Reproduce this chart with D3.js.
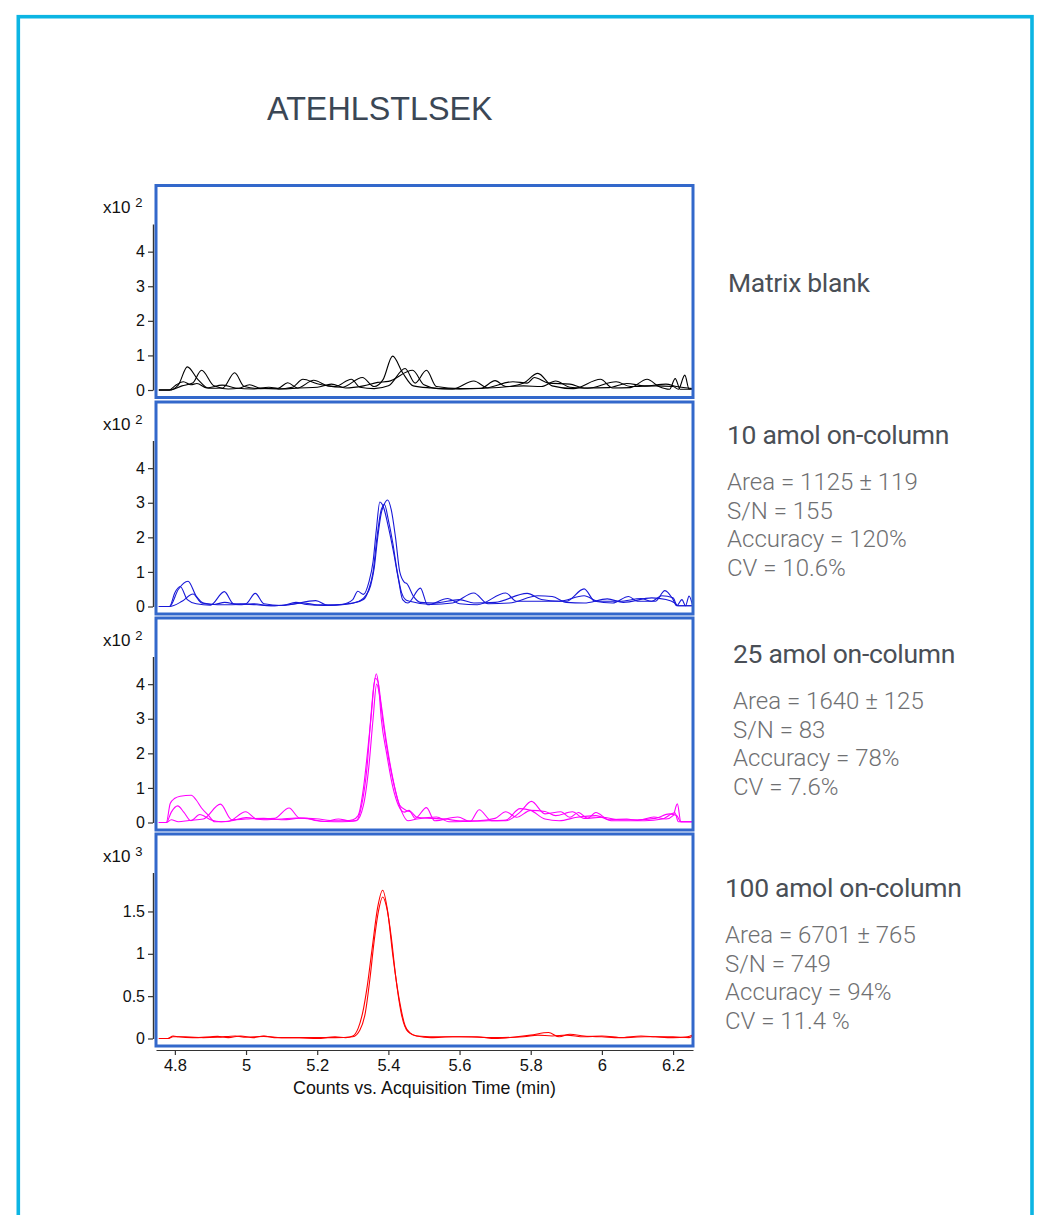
<!DOCTYPE html>
<html><head><meta charset="utf-8">
<script src="https://cdn.jsdelivr.net/npm/d3@7"></script>
<style>body{margin:0;background:#fff}svg{display:block}</style>
</head><body>
<svg id="c" width="1041" height="1215"></svg>
<script>
// ---------- data ----------
const chartTitle = "ATEHLSTLSEK";
const xAxisTitle = "Counts vs. Acquisition Time (min)";
const timeTicks = [4.8, 5, 5.2, 5.4, 5.6, 5.8, 6, 6.2];
const yTicksE2 = [0, 1, 2, 3, 4];
const yTicksE3 = [0, 0.5, 1, 1.5];
const panelNames = ["Matrix blank", "10 amol on-column", "25 amol on-column", "100 amol on-column"];
const panelExponents = [2, 2, 2, 3];
const stats10 = ["Area = 1125 \u00b1 119", "S/N = 155", "Accuracy = 120%", "CV = 10.6%"];
const stats25 = ["Area = 1640 \u00b1 125", "S/N = 83", "Accuracy = 78%", "CV = 7.6%"];
const stats100 = ["Area = 6701 \u00b1 765", "S/N = 749", "Accuracy = 94%", "CV = 11.4 %"];

// Matrix blank replicates (counts x10^2) : [time, value]
const blank1 = [[4.755,0],[4.785,0],[4.81,0.15],[4.835,0.67],[4.865,0.3],[4.895,0.05],[4.935,0.06],[4.968,0.5],[4.995,0.1],[5.04,0.04],[5.09,0.05],[5.117,0.21],[5.145,0.06],[5.19,0.28],[5.23,0.12],[5.27,0.08],[5.327,0.36],[5.36,0.1],[5.385,0.3],[5.412,0.98],[5.44,0.5],[5.47,0.12],[5.52,0.06],[5.58,0.03],[5.64,0.26],[5.68,0.06],[5.74,0.1],[5.78,0.2],[5.82,0.48],[5.86,0.12],[5.92,0.04],[5.996,0.31],[6.03,0.06],[6.08,0.07],[6.127,0.31],[6.16,0.1],[6.19,0.02],[6.206,0.33],[6.22,0.02],[6.255,0.03]];
const blank2 = [[4.755,0],[4.785,0],[4.82,0.12],[4.85,0.2],[4.875,0.57],[4.91,0.12],[4.95,0.03],[4.98,0.05],[5.01,0.15],[5.04,0.05],[5.09,0.03],[5.13,0.08],[5.16,0.31],[5.2,0.18],[5.25,0.1],[5.296,0.31],[5.32,0.08],[5.36,0.04],[5.4,0.12],[5.447,0.62],[5.475,0.2],[5.507,0.57],[5.535,0.1],[5.6,0.04],[5.66,0.05],[5.7,0.27],[5.73,0.1],[5.78,0.12],[5.83,0.1],[5.87,0.26],[5.91,0.08],[5.96,0.05],[6.04,0.24],[6.08,0.1],[6.15,0.12],[6.2,0.1],[6.215,0.02],[6.233,0.43],[6.245,0.03],[6.255,0.03]];
const blank3 = [[4.755,0],[4.785,0],[4.8,0.12],[4.824,0.24],[4.845,0.15],[4.862,0.19],[4.89,0.06],[4.933,0.14],[4.97,0.06],[5.02,0.03],[5.064,0.08],[5.1,0.03],[5.15,0.06],[5.2,0.08],[5.24,0.17],[5.28,0.06],[5.33,0.12],[5.37,0.22],[5.4,0.25],[5.468,0.57],[5.5,0.15],[5.54,0.04],[5.6,0.03],[5.67,0.05],[5.75,0.24],[5.79,0.2],[5.81,0.36],[5.85,0.2],[5.91,0.17],[5.95,0.06],[6.02,0.07],[6.07,0.19],[6.12,0.12],[6.18,0.17],[6.21,0.1],[6.255,0.04]];

// 10 amol replicates (counts x10^2)
const amol10a = [[4.755,0],[4.785,0],[4.8,0.4],[4.815,0.58],[4.835,0.2],[4.86,0.08],[4.9,0.04],[4.939,0.43],[4.965,0.08],[5.0,0.07],[5.03,0.05],[5.07,0.02],[5.12,0.05],[5.196,0.17],[5.23,0.03],[5.27,0.06],[5.3,0.2],[5.314,0.44],[5.33,0.35],[5.345,0.7],[5.357,1.3],[5.366,2.2],[5.376,3.02],[5.387,2.85],[5.4,2.3],[5.414,1.6],[5.428,0.8],[5.44,0.2],[5.455,0.1],[5.49,0.53],[5.51,0.05],[5.567,0.23],[5.6,0.08],[5.65,0.05],[5.73,0.39],[5.76,0.15],[5.82,0.15],[5.9,0.15],[5.95,0.51],[5.98,0.15],[6.03,0.1],[6.075,0.29],[6.1,0.15],[6.15,0.15],[6.177,0.46],[6.2,0.2],[6.21,0.02],[6.225,0.2],[6.235,0.02],[6.245,0.3],[6.255,0.02]];
const amol10b = [[4.755,0],[4.785,0],[4.81,0.5],[4.837,0.73],[4.86,0.3],[4.88,0.1],[4.92,0.05],[4.96,0.05],[5.0,0.08],[5.026,0.38],[5.05,0.08],[5.1,0.03],[5.14,0.12],[5.17,0.06],[5.22,0.03],[5.27,0.05],[5.31,0.12],[5.335,0.3],[5.35,0.6],[5.36,1.1],[5.37,2.0],[5.38,2.7],[5.388,2.95],[5.398,3.08],[5.408,2.8],[5.42,2.0],[5.432,1.0],[5.445,0.7],[5.452,0.66],[5.47,0.3],[5.49,0.12],[5.53,0.1],[5.6,0.2],[5.64,0.1],[5.7,0.12],[5.79,0.38],[5.83,0.2],[5.88,0.15],[5.95,0.31],[5.99,0.15],[6.05,0.15],[6.11,0.23],[6.14,0.15],[6.168,0.31],[6.2,0.25],[6.212,0.02],[6.255,0.02]];
const amol10c = [[4.755,0],[4.785,0],[4.82,0.15],[4.851,0.36],[4.875,0.1],[4.91,0.06],[4.94,0.12],[4.98,0.05],[5.02,0.08],[5.07,0.02],[5.12,0.05],[5.16,0.1],[5.2,0.05],[5.25,0.05],[5.3,0.1],[5.33,0.2],[5.345,0.5],[5.357,1.0],[5.368,2.0],[5.38,2.8],[5.389,2.95],[5.4,2.5],[5.413,1.8],[5.425,1.0],[5.437,0.4],[5.448,0.2],[5.46,0.15],[5.52,0.06],[5.58,0.1],[5.64,0.39],[5.68,0.08],[5.74,0.1],[5.82,0.31],[5.86,0.29],[5.9,0.12],[5.95,0.1],[6.015,0.22],[6.06,0.12],[6.14,0.25],[6.18,0.2],[6.205,0.1],[6.215,0.02],[6.255,0.02]];

// 25 amol replicates (counts x10^2)
const amol25a = [[4.755,0],[4.776,0],[4.787,0.55],[4.8,0.7],[4.815,0.76],[4.846,0.79],[4.86,0.65],[4.875,0.42],[4.895,0.2],[4.912,0.02],[4.95,0.03],[4.999,0.31],[5.03,0.1],[5.08,0.12],[5.121,0.42],[5.15,0.13],[5.196,0.11],[5.25,0.05],[5.28,0.05],[5.3,0.08],[5.315,0.2],[5.33,1.0],[5.341,2.0],[5.351,3.0],[5.36,4.0],[5.366,4.3],[5.372,4.0],[5.38,3.0],[5.395,2.0],[5.413,1.0],[5.428,0.5],[5.445,0.3],[5.458,0.35],[5.475,0.12],[5.507,0.43],[5.53,0.05],[5.595,0.16],[5.63,0.03],[5.655,0.37],[5.69,0.05],[5.73,0.05],[5.77,0.3],[5.802,0.61],[5.84,0.25],[5.885,0.31],[5.91,0.15],[5.934,0.29],[5.96,0.12],[5.983,0.29],[6.02,0.08],[6.07,0.1],[6.1,0.06],[6.146,0.16],[6.18,0.1],[6.2,0.2],[6.212,0.54],[6.222,0.02],[6.255,0.02]];
const amol25b = [[4.755,0],[4.776,0],[4.79,0.3],[4.808,0.48],[4.825,0.3],[4.845,0.05],[4.87,0.23],[4.9,0.08],[4.93,0.02],[4.96,0.05],[5.0,0.14],[5.05,0.08],[5.1,0.1],[5.14,0.13],[5.18,0.1],[5.22,0.03],[5.26,0.1],[5.29,0.05],[5.31,0.06],[5.325,0.5],[5.34,1.6],[5.352,3.2],[5.363,4.17],[5.37,4.1],[5.38,3.4],[5.395,2.3],[5.415,1.15],[5.432,0.5],[5.45,0.35],[5.465,0.3],[5.48,0.15],[5.52,0.12],[5.56,0.1],[5.6,0.05],[5.65,0.05],[5.7,0.12],[5.73,0.31],[5.76,0.15],[5.8,0.35],[5.84,0.32],[5.87,0.2],[5.917,0.31],[5.95,0.12],[6.0,0.15],[6.05,0.08],[6.1,0.08],[6.15,0.12],[6.19,0.25],[6.21,0.2],[6.222,0.02],[6.255,0.02]];
const amol25c = [[4.755,0],[4.776,0],[4.79,0.08],[4.81,0.02],[4.84,0.06],[4.88,0.1],[4.928,0.53],[4.96,0.08],[5.0,0.1],[5.05,0.12],[5.1,0.08],[5.163,0.13],[5.2,0.05],[5.25,0.02],[5.29,0.03],[5.31,0.05],[5.33,0.5],[5.345,1.6],[5.357,3.0],[5.367,4.0],[5.375,3.7],[5.385,2.9],[5.4,1.9],[5.42,0.9],[5.438,0.3],[5.455,0.05],[5.48,0.1],[5.535,0.16],[5.57,0.02],[5.62,0.03],[5.68,0.05],[5.73,0.07],[5.77,0.4],[5.8,0.35],[5.84,0.1],[5.88,0.05],[5.93,0.15],[5.983,0.2],[6.03,0.05],[6.08,0.05],[6.12,0.05],[6.17,0.1],[6.205,0.28],[6.215,0.02],[6.255,0.02]];

// 100 amol replicates (counts x10^3)
const amol100a = [[4.755,0],[4.78,0],[4.795,0.03],[4.81,0.02],[4.85,0.01],[4.9,0.02],[4.92,0.025],[4.95,0.01],[4.985,0.03],[5.02,0.01],[5.05,0.03],[5.08,0.01],[5.15,0.01],[5.2,0.0],[5.25,0.02],[5.28,0.01],[5.3,0.03],[5.315,0.12],[5.33,0.35],[5.34,0.6],[5.354,1.05],[5.37,1.55],[5.384,1.75],[5.398,1.5],[5.412,1.0],[5.431,0.45],[5.447,0.15],[5.46,0.07],[5.48,0.03],[5.52,0.01],[5.58,0.02],[5.65,0.02],[5.7,0.0],[5.76,0.02],[5.8,0.04],[5.85,0.07],[5.88,0.02],[5.91,0.05],[5.95,0.03],[6.0,0.02],[6.05,0.01],[6.11,0.03],[6.15,0.02],[6.2,0.01],[6.24,0.02],[6.255,0.04]];
const amol100b = [[4.755,0],[4.78,0],[4.795,0.02],[4.83,0.02],[4.88,0.01],[4.92,0.015],[4.97,0.03],[5.0,0.015],[5.05,0.025],[5.1,0.01],[5.18,0.01],[5.25,0.01],[5.3,0.02],[5.32,0.1],[5.335,0.3],[5.348,0.7],[5.36,1.15],[5.372,1.5],[5.384,1.67],[5.395,1.55],[5.408,1.2],[5.42,0.75],[5.436,0.3],[5.455,0.08],[5.48,0.03],[5.55,0.02],[5.6,0.02],[5.7,0.01],[5.78,0.02],[5.82,0.04],[5.86,0.03],[5.9,0.04],[5.95,0.02],[6.0,0.03],[6.06,0.01],[6.12,0.02],[6.2,0.02],[6.245,0.01],[6.255,0.03]];

// ---------- build ----------
const panels = [
  {traces:[blank1, blank2, blank3], color:"#000000", max:4.8, ticks:yTicksE2, stats:[]},
  {traces:[amol10a, amol10b, amol10c], color:"#1818d8", max:4.8, ticks:yTicksE2, stats:stats10},
  {traces:[amol25a, amol25b, amol25c], color:"#ff00ff", max:4.8, ticks:yTicksE2, stats:stats25},
  {traces:[amol100a, amol100b], color:"#ff0000", max:1.96, ticks:yTicksE3, stats:stats100}
];
const panelTops = [185.5, 402, 618, 834];
const labelX = [728, 727, 733, 725];
const labelY = [292, 444, 663, 897];

const svg = d3.select("#c");
svg.append("rect").attr("width",1041).attr("height",1215).attr("fill","#fff");
// outer frame
svg.append("rect").attr("x",18.3).attr("y",16.7).attr("width",1013.7).attr("height",1260)
  .attr("fill","none").attr("stroke","#0cb5e3").attr("stroke-width",3.6);

svg.append("text").attr("x",267).attr("y",120).text(chartTitle)
  .attr("font-family","'Liberation Sans', Arial, sans-serif").attr("font-size",32.3).attr("fill","#3b4755");

const x = d3.scaleLinear().domain([4.747, 6.256]).range([156, 693]);
const axisFont = "'Liberation Sans', Arial, sans-serif";

panels.forEach((p, i) => {
  const top = panelTops[i];
  const base = top + 204.5;
  const y = d3.scaleLinear().domain([0, p.max]).range([base, base - 166]);
  const g = svg.append("g");
  // traces
  const line = d3.line().x(d => x(d[0])).y(d => y(d[1])).curve(d3.curveMonotoneX);
  p.traces.forEach(tr => {
    g.append("path").attr("d", line(tr)).attr("fill","none")
      .attr("stroke", p.color).attr("stroke-width",1.1).attr("stroke-linejoin","round");
  });
  // border
  g.append("rect").attr("x",156).attr("y",top).attr("width",537).attr("height",212)
    .attr("fill","none").attr("stroke","#3368cb").attr("stroke-width",3);
  // y axis
  const ax = g.append("g").attr("transform","translate(153,0)")
    .call(d3.axisLeft(y).tickValues(p.ticks).tickSize(5).tickSizeOuter(0).tickPadding(3)
      .tickFormat(d => d3.format("")(d)));
  ax.select(".domain").attr("stroke","#333").attr("stroke-width",1.4);
  ax.selectAll(".tick line").attr("stroke","#333").attr("stroke-width",1.2);
  ax.selectAll("text").attr("font-family",axisFont).attr("font-size",16).attr("fill","#111");
  // exponent label
  const ex = g.append("text").attr("x",103).attr("y",top+27.5)
    .attr("font-family",axisFont).attr("font-size",17).attr("fill","#111");
  ex.append("tspan").text("x10 ");
  ex.append("tspan").attr("dy",-6).attr("font-size",13).text(panelExponents[i]);
  // right labels
  svg.append("text").attr("x",labelX[i]).attr("y",labelY[i]).text(panelNames[i])
    .attr("font-family","Roboto, sans-serif").attr("font-size",26.5).attr("letter-spacing",-0.3)
    .attr("fill","#4a4f56");
  p.stats.forEach((s, k) => {
    svg.append("text").attr("x",labelX[i]).attr("y",labelY[i] + 46 + k*28.6).text(s)
      .attr("font-family","Roboto, sans-serif").attr("font-weight",300).attr("font-size",24)
      .attr("fill","#6f7072");
  });
});

// x axis
const xa = svg.append("g").attr("transform","translate(0,1050)")
  .call(d3.axisBottom(x).tickValues(timeTicks).tickSize(5).tickSizeOuter(0).tickPadding(4)
    .tickFormat(d => d3.format("")(d)));
xa.select(".domain").attr("stroke","#333").attr("stroke-width",1.2);
xa.selectAll(".tick line").attr("stroke","#333").attr("stroke-width",1.2);
xa.selectAll("text").attr("font-family",axisFont).attr("font-size",16.5).attr("fill","#111");
svg.append("text").attr("x",424.5).attr("y",1094).attr("text-anchor","middle").text(xAxisTitle)
  .attr("font-family",axisFont).attr("font-size",17.8).attr("fill","#111");
</script>
</body></html>
